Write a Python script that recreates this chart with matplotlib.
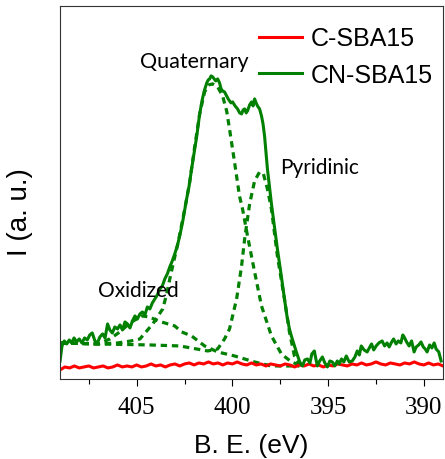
import matplotlib
matplotlib.use("Agg")
import matplotlib.pyplot as plt
import numpy as np

# binding energy grid of the C-SBA15 scan (eV)
be_c = np.arange(409.0, 388.99, -0.25)
int_c = [9, 12, 11, 13, 11, 12, 13, 11, 12, 13, 11, 12, 14, 12, 13, 12, 14,
         12, 13, 15, 13, 14, 12, 14, 15, 13, 15, 16, 14, 16, 15, 17, 15, 16, 14, 16, 15, 17, 15, 14, 16,
         14, 15, 13, 15, 14, 13, 15, 14, 12, 14, 13, 15, 13, 14, 12, 14, 13, 15, 14, 13,
         15, 14, 16, 14, 15, 17, 15, 14, 16, 15, 14, 16, 15, 17, 15, 14, 16, 14, 15, 13]

# CN-SBA15 measured spectrum
be_cn = [409.00, 408.90, 408.78, 408.65, 408.52, 408.40, 408.27, 408.14, 408.00, 407.86,
         407.72, 407.58, 407.45, 407.32, 407.18, 407.05, 406.92, 406.78, 406.65, 406.52,
         406.40, 406.27, 406.14, 406.00, 405.87, 405.74, 405.61, 405.48, 405.35, 405.22,
         405.09, 404.96, 404.83, 404.70, 404.57, 404.44, 404.31, 404.18, 404.05, 403.92,
         403.79, 403.66, 403.53, 403.40, 403.27, 403.14, 403.01, 402.88, 402.75, 402.59,
         402.39, 402.26, 402.13, 402.00, 401.86, 401.73, 401.60, 401.47, 401.34, 401.26,
         401.19, 401.11, 401.03, 400.95, 400.87, 400.77, 400.67, 400.59, 400.51, 400.41,
         400.30, 400.22, 400.15, 400.07, 399.99, 399.86, 399.73, 399.62, 399.52, 399.44,
         399.36, 399.28, 399.21, 399.10, 399.00, 398.92, 398.84, 398.76, 398.69, 398.58,
         398.48, 398.40, 398.32, 398.17, 397.96, 397.80, 397.65, 397.46, 397.28, 397.15,
         397.02, 396.92, 396.79, 396.66, 396.50, 396.40, 396.34, 396.22, 396.08, 395.95,
         395.85, 395.72, 395.64, 395.56, 395.44, 395.30, 395.17, 395.04, 394.91, 394.78,
         394.65, 394.52, 394.42, 394.30, 394.18, 394.05, 393.90, 393.74, 393.60, 393.48,
         393.37, 393.27, 393.12, 392.96, 392.85, 392.73, 392.62, 392.49, 392.35, 392.18,
         392.05, 391.92, 391.81, 391.68, 391.58, 391.45, 391.33, 391.20, 391.10, 391.03,
         390.90, 390.77, 390.64, 390.51, 390.40, 390.27, 390.15, 390.03, 389.93, 389.83,
         389.70, 389.58, 389.46, 389.36, 389.22, 389.10]
int_cn = [18, 33, 38, 35, 39, 36, 41, 37, 40, 36,
          41, 39, 44, 46, 38, 36, 42, 45, 41, 55,
          49, 46, 52, 50, 54, 49, 57, 55, 51, 58,
          63, 60, 65, 67, 64, 72, 70, 76, 80, 84,
          90, 93, 100, 105, 112, 118, 125, 133, 143, 158,
          180, 193, 210, 226, 243, 262, 277, 288, 296, 299,
          300, 303, 302, 300, 298, 300, 296, 290, 288, 287,
          283, 280, 278, 276, 277, 273, 270, 266, 265, 269,
          270, 266, 268, 274, 277, 273, 280, 276, 273, 270,
          263, 255, 243, 210, 175, 152, 130, 105, 80, 63,
          50, 43, 35, 27, 18, 14, 13, 19, 20, 16,
          25, 28, 20, 13, 18, 22, 16, 12, 18, 17,
          13, 18, 15, 20, 17, 23, 17, 18, 22, 28,
          24, 33, 29, 27, 31, 35, 29, 33, 36, 38,
          33, 36, 32, 37, 40, 35, 38, 36, 44, 42,
          37, 33, 38, 27, 32, 34, 37, 32, 30, 27,
          34, 31, 36, 30, 27, 18]

# fitted components (dashed)
be_ox = [409.0, 407.02, 406.40, 405.88, 405.35, 404.73, 404.31, 403.90, 403.53, 403.01,
         402.65, 402.13, 401.45, 400.77, 399.89, 398.84, 397.96, 396.50]
int_ox = [36, 35, 40, 47, 56, 63, 62, 58, 56, 53,
          47, 43, 33, 27, 23, 17, 13, 13]

be_q = [409.0, 407.0, 406.0, 405.3, 404.83, 404.16, 403.64, 403.43, 403.27, 403.06,
        402.85, 402.59, 402.39, 402.23, 401.97, 401.71, 401.45, 401.24, 401.03, 400.77,
        400.51, 400.30, 400.15, 399.89, 399.63, 399.47, 399.21, 398.84, 398.48, 397.96,
        397.44, 396.92, 396.50]
int_q = [36, 35, 36, 38, 40, 55, 70, 85, 100, 118,
         135, 160, 180, 197, 232, 265, 287, 294, 295, 292,
         283, 268, 250, 217, 183, 170, 143, 107, 73, 43,
         25, 17, 14]

be_py = [409.0, 407.02, 404.31, 402.75, 401.29, 400.77, 400.41, 400.15, 399.78, 399.52,
         399.36, 399.10, 398.84, 398.58, 398.38, 398.17, 397.96, 397.65, 397.28, 397.02,
         396.76, 396.50]
int_py = [36, 35, 34, 33, 28, 30, 40, 50, 80, 113,
          140, 175, 198, 207, 205, 190, 170, 123, 80, 47,
          23, 15]

green = "#008000"
fig = plt.figure(figsize=(4.45, 4.60), dpi=100)
ax = fig.add_axes([0.135, 0.174, 0.8605, 0.811])

dash = (0, (2, 1.5))
ax.plot(be_ox, int_ox, color=green, lw=2.3, ls=dash)
ax.plot(be_q, int_q, color=green, lw=2.3, ls=dash)
ax.plot(be_py, int_py, color=green, lw=2.3, ls=dash)
ax.plot(be_c, int_c, color="red", lw=2.2, label="C-SBA15")
ax.plot(be_cn, int_cn, color=green, lw=2.2, label="CN-SBA15")

ax.set_xlim(409, 389)
ax.set_ylim(0, 373)
ax.set_xticks([405, 400, 395, 390])
ax.set_xticks([407.5, 402.5, 397.5, 392.5], minor=True)
ax.set_yticks([])
ax.tick_params(axis="x", which="major", direction="out", length=5, width=0.8, pad=7)
ax.tick_params(axis="x", which="minor", direction="out", length=3.5, width=0.8)
for lab in ax.get_xticklabels():
    lab.set_fontfamily("Liberation Serif")
    lab.set_fontsize(18)
for s in ax.spines.values():
    s.set_linewidth(0.8)
    s.set_color("#333333")

ax.set_xlabel("B. E. (eV)", fontsize=19, family="Liberation Sans", labelpad=11)
ax.set_ylabel("I (a. u.)", fontsize=20, family="Liberation Sans")
ax.yaxis.set_label_coords(-0.07, 0.45)

ax.text(402.0, 318, "Quaternary", fontsize=15.5, family="Lato", ha="center", va="center")
ax.text(397.5, 212, "Pyridinic", fontsize=15, family="Lato", ha="left", va="center")
ax.text(407.0, 89, "Oxidized", fontsize=15, family="Lato", ha="left", va="center")

ax.legend(loc="upper left", bbox_to_anchor=(0.52, 0.945), frameon=False,
          prop={"family": "Liberation Sans", "size": 18}, handlelength=1.7,
          handletextpad=0.35, labelspacing=0.5, borderpad=0, borderaxespad=0)

fig.savefig("out.png", dpi=100)
